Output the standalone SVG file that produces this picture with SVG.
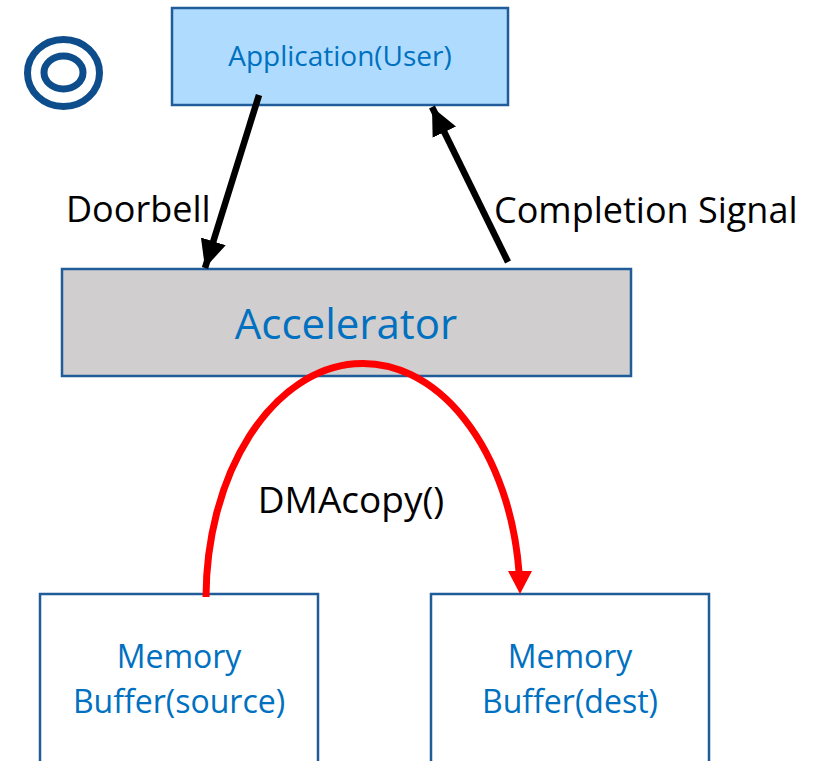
<svg xmlns="http://www.w3.org/2000/svg" width="821" height="761" viewBox="0 0 821 761">
  <style>
    .box { stroke: #1F5C99; stroke-width: 2.5; }
    .blue { fill: #0070C0; font-family: "Open Sans", "Liberation Sans", sans-serif; text-anchor: middle; }
    .lbl { fill: #000000; font-family: "Open Sans", "Liberation Sans", sans-serif; }
    .arrow { stroke: #000000; stroke-width: 6.5; fill: none; }
  </style>
  <defs>
    <marker id="head" markerUnits="userSpaceOnUse" markerWidth="32" markerHeight="28" refX="28" refY="13" orient="auto" viewBox="0 0 32 26">
      <path d="M0,0 L28,13 L0,26 Z" fill="#000000"/>
    </marker>
  </defs>

  <!-- symbol in the top-left corner -->
  <g id="icon" fill="none" stroke="#0E4D8B" stroke-width="7">
    <ellipse cx="63.5" cy="73" rx="36" ry="33.5"/>
    <ellipse cx="63.5" cy="72.5" rx="19.5" ry="16.5"/>
  </g>

  <g id="application">
    <rect class="box" x="172" y="8" width="336" height="97" fill="#AFDCFE"/>
    <text class="blue" x="340" y="66" font-size="28">Application(User)</text>
  </g>

  <g id="accelerator">
    <rect class="box" x="62" y="269" width="569" height="107" fill="#D0CECE"/>
    <text class="blue" x="346" y="339" font-size="42">Accelerator</text>
  </g>

  <g id="buffer-source">
    <path class="box" d="M40,770 L40,594 L318,594 L318,770" fill="#FFFFFF"/>
    <text class="blue" font-size="32"><tspan x="179" y="668">Memory</tspan><tspan x="179" y="713">Buffer(source)</tspan></text>
  </g>

  <g id="buffer-dest">
    <path class="box" d="M431,770 L431,594 L709,594 L709,770" fill="#FFFFFF"/>
    <text class="blue" font-size="32"><tspan x="570" y="668">Memory</tspan><tspan x="570" y="713">Buffer(dest)</tspan></text>
  </g>

  <g id="connectors">
    <!-- doorbell: application to accelerator -->
    <line class="arrow" x1="259" y1="95" x2="205" y2="268" marker-end="url(#head)"/>
    <!-- completion signal: accelerator back to application -->
    <line class="arrow" x1="508" y1="262" x2="432" y2="107" marker-end="url(#head)"/>
    <!-- DMA copy from source buffer to destination buffer -->
    <path d="M206,597 A157,235 0 0 1 519,572" fill="none" stroke="#FF0000" stroke-width="7"/>
    <polygon points="508,571 532,571 520,594" fill="#FF0000"/>
  </g>

  <g id="labels">
    <text class="lbl" x="66" y="222" font-size="36">Doorbell</text>
    <text class="lbl" x="494" y="223" font-size="36">Completion Signal</text>
    <text class="lbl" x="351" y="513" font-size="37" text-anchor="middle">DMAcopy()</text>
  </g>
</svg>
